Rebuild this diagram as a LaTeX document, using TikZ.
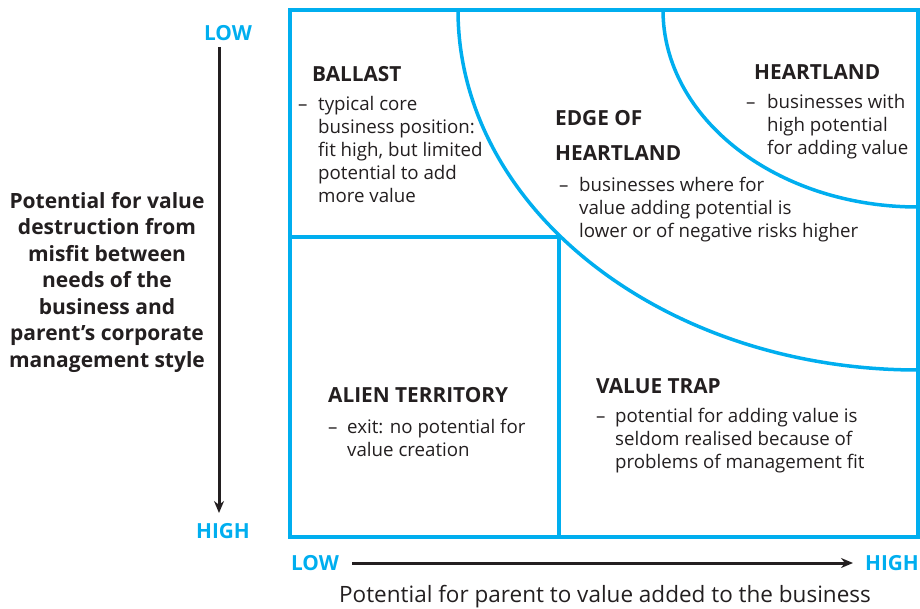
\documentclass[tikz,border=0pt]{standalone}
\usepackage{fontspec}
\setmainfont{Open Sans}
\usetikzlibrary{arrows.meta}
\definecolor{cy}{HTML}{00AEEF}
\definecolor{ink}{HTML}{231F20}
\newcommand\mlines[1]{\begin{tabular}[t]{@{}l@{}}#1\end{tabular}}
\begin{document}
\begin{tikzpicture}[x=1pt,y=-1pt,
  frame/.style={draw=cy,line width=3.5pt},
  head/.style={anchor=base west,inner sep=0pt,text=ink,font=\fontsize{20.8}{35}\selectfont\bfseries},
  body/.style={anchor=base west,inner sep=0pt,text=ink,font=\fontsize{18.7}{23}\selectfont},
  axislab/.style={inner sep=0pt,text=cy,font=\fontsize{20.8}{22}\selectfont\bfseries},
  axarrow/.style={draw=ink,line width=3pt,-{Stealth[length=12pt,width=10pt]}}]
\useasboundingbox (0,0) rectangle (920,609);
% frame and regions
\draw[frame] (290,10) rectangle (918,537);
\draw[frame] (290,237) -- (559,237) -- (559,537);
\draw[frame] (458,10) arc[start angle=180,end angle=90,x radius=460,y radius=360];
\draw[frame] (663,10) arc[start angle=180,end angle=90,x radius=255,y radius=197];
% region texts
\node[head] (ballastH) at (312,81.5) {BALLAST};
\node[body] (ballastD) at (298,111) {–};
\node[body] (ballastB) at (318,111) {\mlines{typical core\\business position:\\fit high, but limited\\potential to add\\more value}};
\node[head] (edgeH) at (555,125.5) {\mlines{EDGE OF\\HEARTLAND}};
\node[body] (edgeD) at (559,192) {–};
\node[body] (edgeB) at (579,192) {\mlines{businesses where for\\value adding potential is\\lower or of negative risks higher}};
\node[head] (heartH) at (754,79.5) {HEARTLAND};
\node[body] (heartD) at (746,109) {–};
\node[body] (heartB) at (767,109) {\mlines{businesses with\\high potential\\for adding value}};
\node[head] (alienH) at (328,402.5) {ALIEN TERRITORY};
\node[body] (alienD) at (328,433) {–};
\node[body] (alienB) at (347,433) {\mlines{exit: no potential for\\value creation}};
\node[head] (trapH) at (596,393.5) {VALUE TRAP};
\node[body] (trapD) at (596,422) {–};
\node[body] (trapB) at (615,422) {\mlines{potential for adding value is\\seldom realised because of\\problems of management fit}};
% axes
\node[axislab] (lowv) at (228,33) {LOW};
\node[axislab] (highv) at (223,531) {HIGH};
\node[axislab] (lowh) at (315,563) {LOW};
\node[axislab] (highh) at (892,563) {HIGH};
\coordinate (va) at (219,47);
\coordinate (vb) at (219,513);
\coordinate (ha) at (352,563);
\coordinate (hb) at (853,563);
\draw[axarrow] (va) -- (vb);
\draw[axarrow] (ha) -- (hb);
\node[inner sep=0pt,text=ink,align=center,font=\fontsize{21}{26.5}\selectfont\bfseries] (ylab) at (107,282)
  {Potential for value\\destruction from\\misfit between\\needs of the\\business and\\parent’s corporate\\management style};
\node[inner sep=0pt,text=ink,font=\fontsize{22.5}{24}\selectfont] (xlab) at (605,597)
  {Potential for parent to value added to the business};
\end{tikzpicture}
\end{document}
